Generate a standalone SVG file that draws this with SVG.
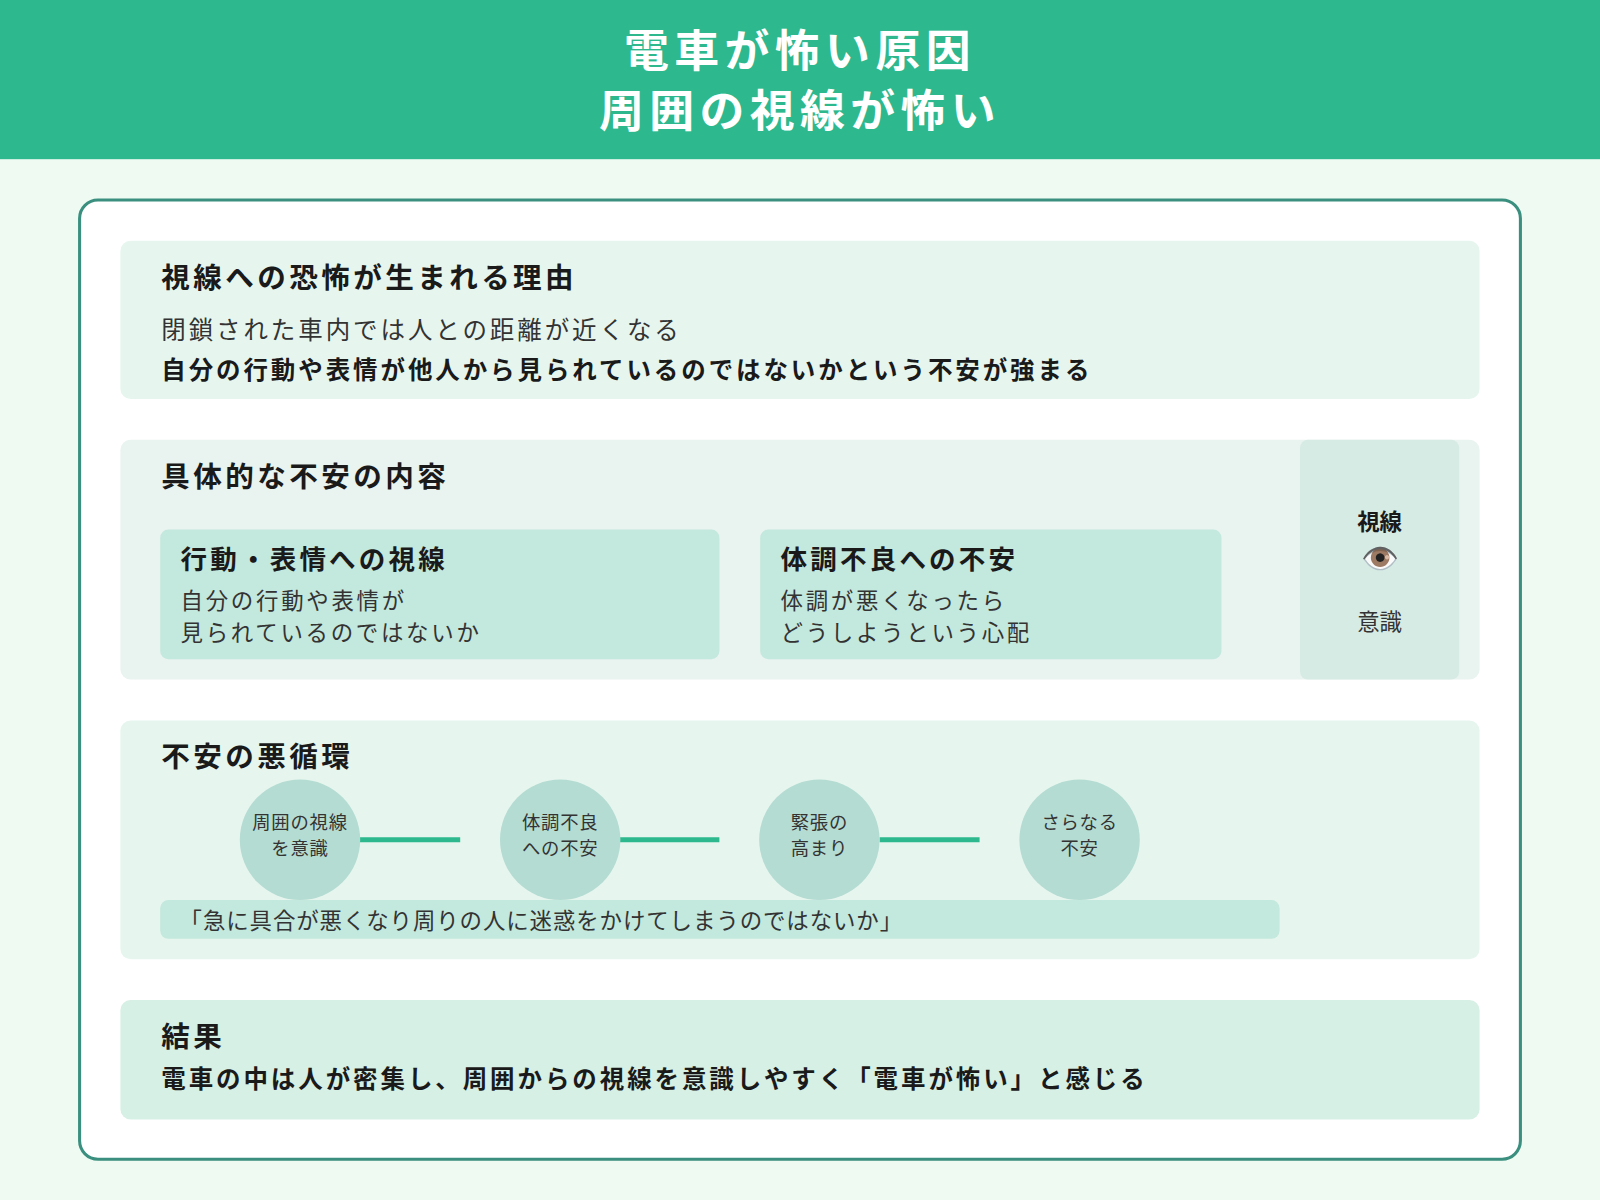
<svg xmlns="http://www.w3.org/2000/svg" width="1600" height="1200" viewBox="0 0 1600 1200">
<style>
text{font-family:"Noto Sans CJK JP","Noto Sans",sans-serif;fill:#1a1a1a;letter-spacing:0.12em}
.h{font-size:28px;font-weight:700}
.t{font-size:24px;fill:#333}
.b{font-size:24px;font-weight:700}
.bt{font-size:26px;font-weight:700}
.s{font-size:22px;fill:#333}
.c{font-size:18px;fill:#333;text-anchor:middle;letter-spacing:0.04em}
</style>
<rect width="1600" height="1200" fill="#eefaf2"/>
<g transform="scale(1.0204)">
<g id="header"><rect x="0" y="0" width="1568" height="156" fill="#2db88d"/>
<text x="784" y="66" text-anchor="middle" style="font-size:44px;font-weight:700;fill:#fff">電車が怖い原因</text>
<text x="784" y="124" text-anchor="middle" style="font-size:44px;font-weight:700;fill:#fff">周囲の視線が怖い</text></g>
<rect x="78" y="196" width="1412" height="940" rx="18" fill="#fff" stroke="#3a8f7f" stroke-width="3"/>
<g id="reason"><rect x="118" y="236" width="1332" height="155" rx="10" fill="#e6f6ef"/>
<text x="158" y="282" class="h">視線への恐怖が生まれる理由</text>
<text x="158" y="332" class="t">閉鎖された車内では人との距離が近くなる</text>
<text x="158" y="371" class="b">自分の行動や表情が他人から見られているのではないかという不安が強まる</text></g>
<g id="content"><rect x="118" y="431" width="1332" height="235" rx="10" fill="#e9f3f0"/>
<text x="158" y="477" class="h">具体的な不安の内容</text>
<rect x="157" y="519" width="548" height="127" rx="8" fill="#c3e8dd"/>
<text x="177" y="558" class="bt">行動・表情への視線</text>
<text x="177" y="597" class="s">自分の行動や表情が</text>
<text x="177" y="628" class="s">見られているのではないか</text>
<rect x="745" y="519" width="452" height="127" rx="8" fill="#c3e8dd"/>
<text x="765" y="558" class="bt">体調不良への不安</text>
<text x="765" y="597" class="s">体調が悪くなったら</text>
<text x="765" y="628" class="s">どうしようという心配</text>
<rect x="1274" y="431" width="156" height="235" rx="8" fill="#d7ebe5"/>
<text x="1352" y="519" text-anchor="middle" style="font-size:22px;font-weight:700;letter-spacing:0">視線</text>
<text x="1352" y="558" text-anchor="middle" style="font-size:30px;letter-spacing:0">👁️</text>
<text x="1352" y="617" text-anchor="middle" class="s" style="letter-spacing:0">意識</text></g>
<g id="cycle"><rect x="118" y="706" width="1332" height="234" rx="10" fill="#e6f6ef"/>
<text x="158" y="752" class="h">不安の悪循環</text>
<g id="connectors" stroke="#2db88d" stroke-width="5"><line x1="352" y1="823" x2="451" y2="823"/><line x1="607" y1="823" x2="705" y2="823"/><line x1="862" y1="823" x2="960" y2="823"/></g>
<g id="n1"><circle cx="294" cy="823" r="59" fill="#b5dcd2"/><text x="294" y="812" class="c">周囲の視線</text><text x="294" y="838" class="c">を意識</text></g>
<g id="n2"><circle cx="549" cy="823" r="59" fill="#b5dcd2"/><text x="549" y="812" class="c">体調不良</text><text x="549" y="838" class="c">への不安</text></g>
<g id="n3"><circle cx="803" cy="823" r="59" fill="#b5dcd2"/><text x="803" y="812" class="c">緊張の</text><text x="803" y="838" class="c">高まり</text></g>
<g id="n4"><circle cx="1058" cy="823" r="59" fill="#b5dcd2"/><text x="1058" y="812" class="c">さらなる</text><text x="1058" y="838" class="c">不安</text></g>
<rect x="157" y="882" width="1097" height="38" rx="8" fill="#c3e8dd"/>
<text x="176" y="910" class="s" style="letter-spacing:0.04em">「急に具合が悪くなり周りの人に迷惑をかけてしまうのではないか」</text></g>
<g id="result"><rect x="118" y="980" width="1332" height="117" rx="10" fill="#d6f0e5"/>
<text x="158" y="1026" class="h">結果</text>
<text x="158" y="1066" class="b">電車の中は人が密集し、周囲からの視線を意識しやすく「電車が怖い」と感じる</text></g>
</g>
</svg>
